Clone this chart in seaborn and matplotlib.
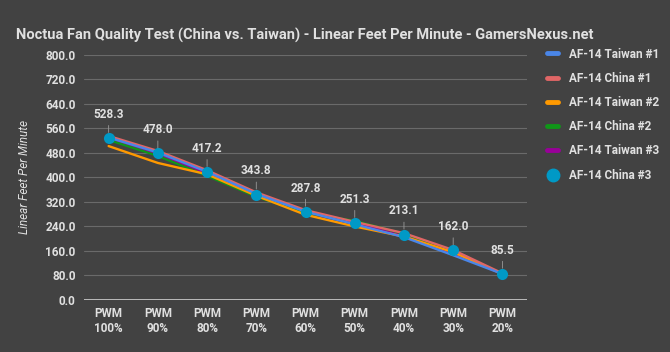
import matplotlib
matplotlib.use('Agg')
import matplotlib.pyplot as plt
from matplotlib.lines import Line2D
import pandas as pd
import seaborn as sns

# data
pwm_labels = ["PWM\n100%", "PWM\n90%", "PWM\n80%", "PWM\n70%", "PWM\n60%",
              "PWM\n50%", "PWM\n40%", "PWM\n30%", "PWM\n20%"]
taiwan_1 = [530.0, 481.0, 418.0, 346.0, 288.0, 247.0, 205.0, 146.0, 85.0]
china_1 = [535.0, 486.0, 423.0, 351.0, 293.0, 255.0, 218.0, 163.0, 87.0]
taiwan_2 = [502.0, 447.0, 410.0, 340.0, 278.0, 240.0, 207.0, 156.0, 85.0]
china_2 = [522.0, 470.0, 405.0, 337.0, 284.0, 258.0, 216.0, 160.0, 86.0]
taiwan_3 = [526.0, 474.0, 412.0, 342.0, 286.0, 252.0, 209.0, 153.0, 85.0]
china_3 = [528.3, 478.0, 417.2, 343.8, 287.8, 251.3, 213.1, 162.0, 85.5]

series_names = ["AF-14 Taiwan #1", "AF-14 China #1", "AF-14 Taiwan #2",
                "AF-14 China #2", "AF-14 Taiwan #3", "AF-14 China #3"]
series_values = [taiwan_1, china_1, taiwan_2, china_2, taiwan_3, china_3]
colors = ["#4a86e8", "#e06666", "#ff9900", "#109618", "#990099", "#0099c6"]

BG = "#424242"
TXT = "#e0e0e0"

sns.set_theme(style="dark")
plt.rcParams['font.family'] = ['Roboto', 'DejaVu Sans']

rows = []
for name, vals in zip(series_names, series_values):
    for i, v in enumerate(vals):
        rows.append({"series": name, "idx": i, "lfm": v})
df = pd.DataFrame(rows)

fig = plt.figure(figsize=(6.7, 3.52), dpi=100, facecolor=BG)
ax = fig.add_axes([0.1254, 0.1477, 0.6612, 0.6969])
ax.set_facecolor(BG)

palette = dict(zip(series_names, colors))
line_names = series_names[:5][::-1]  # draw so that Taiwan #1 ends up on top
sns.lineplot(data=df[df.series != "AF-14 China #3"], x="idx", y="lfm", hue="series",
             hue_order=line_names, palette=palette, linewidth=1.7, ax=ax,
             legend=False, sort=False)
sns.lineplot(data=df[df.series == "AF-14 China #3"], x="idx", y="lfm", hue="series",
             palette=palette, linewidth=0, marker="o", markersize=8,
             markeredgewidth=0, ax=ax, legend=False)

# value labels for China #3
for i, v in enumerate(china_3):
    ax.annotate(f"{v:.1f}", xy=(i, v), xytext=(i, v + 56), ha="center", va="bottom",
                color=TXT, fontsize=8.5, fontweight="bold",
                arrowprops=dict(arrowstyle="-", color="#9a9a9a", lw=0.6,
                                shrinkA=1, shrinkB=4))

ax.set_ylim(0, 800)
ax.set_xlim(-0.5, len(pwm_labels) - 0.5)
ax.set_yticks(range(0, 801, 80))
ax.set_yticklabels([f"{t:.1f}" for t in range(0, 801, 80)])
ax.set_xticks(range(len(pwm_labels)))
ax.set_xticklabels(pwm_labels)
ax.tick_params(axis="both", colors=TXT, labelsize=8.5, length=0)
for lab in ax.get_xticklabels() + ax.get_yticklabels():
    lab.set_fontweight("bold")
ax.tick_params(axis="y", pad=6)
ax.tick_params(axis="x", pad=5)
ax.grid(axis="y", color="#6a6a6a", linewidth=0.8)
ax.grid(axis="x", visible=False)
ax.axhline(0, color="#cfcfcf", linewidth=1.2, zorder=1)
for s in ax.spines.values():
    s.set_visible(False)

ax.set_xlabel("")
ax.set_ylabel("Linear Feet Per Minute", color=TXT, fontsize=8.5, style="italic",
              labelpad=10)

fig.text(0.024, 0.9, "Noctua Fan Quality Test (China vs. Taiwan) - Linear Feet Per Minute - GamersNexus.net",
         color=TXT, fontsize=10.5, fontweight="bold", ha="left", va="center")

handles = []
for name, c in zip(series_names, colors):
    if name == "AF-14 China #3":
        handles.append(Line2D([], [], color=c, marker="o", linestyle="none", markersize=9))
    else:
        handles.append(Line2D([], [], color=c, linewidth=3.5, solid_capstyle="round"))
leg = fig.legend(handles, series_names, loc="upper left", bbox_to_anchor=(0.8, 0.895),
                 frameon=False, fontsize=8.5, handlelength=1.0, labelspacing=0.95,
                 handletextpad=0.9, labelcolor=TXT)
for t in leg.get_texts():
    t.set_fontweight("bold")

fig.savefig("out.png", dpi=100, facecolor=BG)
